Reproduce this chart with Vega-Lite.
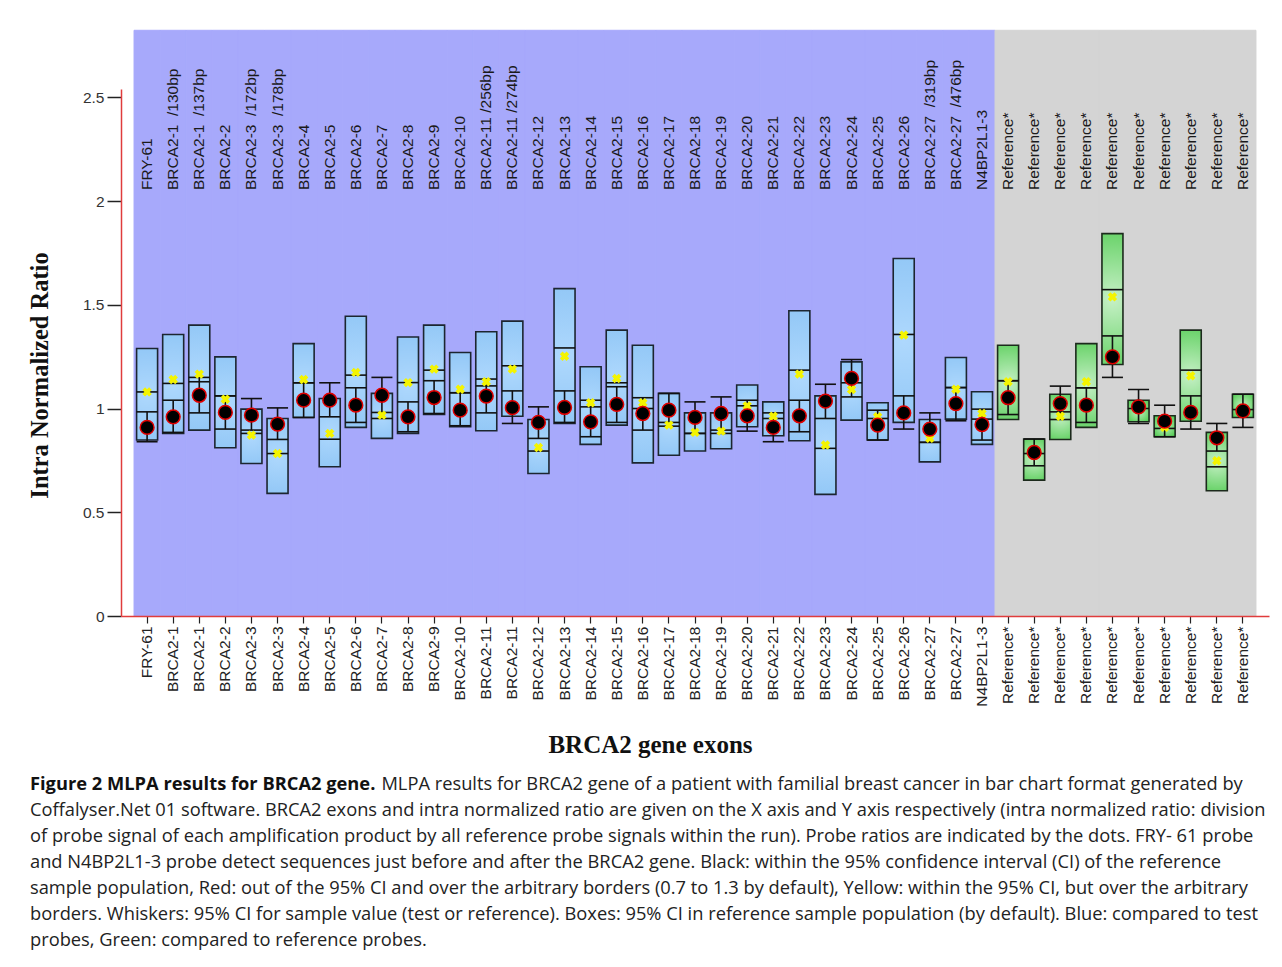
{
  "$schema": "https://vega.github.io/schema/vega-lite/v6.json",
  "width": 1148,
  "height": 527,
  "autosize": {"type": "none"},
  "padding": {"left": 121, "top": 89, "right": 13, "bottom": 351},
  "background": "white",
  "config": {"view": {"stroke": null}, "font": "Liberation Sans"},
  "title": {
    "text": "Figure 2 MLPA results for BRCA2 gene.",
    "subtitle": [
      "\u200b\u00a0\u00a0\u00a0\u00a0\u00a0\u00a0\u00a0\u00a0\u00a0\u00a0\u00a0\u00a0\u00a0\u00a0\u00a0\u00a0\u00a0\u00a0\u00a0\u00a0\u00a0\u00a0\u00a0\u00a0\u00a0\u00a0\u00a0\u00a0\u00a0\u00a0\u00a0\u00a0\u00a0\u00a0\u00a0\u00a0\u00a0\u00a0\u00a0\u00a0\u00a0\u00a0\u00a0\u00a0\u00a0\u00a0\u00a0\u00a0\u00a0\u00a0\u00a0\u00a0\u00a0\u00a0\u00a0\u00a0\u00a0\u00a0\u00a0\u00a0\u00a0\u00a0\u00a0\u00a0\u00a0\u00a0\u00a0\u00a0\u00a0\u00a0\u00a0\u00a0\u00a0\u00a0MLPA results for BRCA2 gene of a patient with familial breast cancer in bar chart format generated by",
      "Coffalyser.Net 01 software. BRCA2 exons and intra normalized ratio are given on the X axis and Y axis respectively (intra normalized ratio: division",
      "of probe signal of each amplification product by all reference probe signals within the run). Probe ratios are indicated by the dots. FRY- 61 probe",
      "and N4BP2L1-3 probe detect sequences just before and after the BRCA2 gene. Black: within the 95% confidence interval (CI) of the reference",
      "sample population, Red: out of the 95% CI and over the arbitrary borders (0.7 to 1.3 by default), Yellow: within the 95% CI, but over the arbitrary",
      "borders. Whiskers: 95% CI for sample value (test or reference). Boxes: 95% CI in reference sample population (by default). Blue: compared to test",
      "probes, Green: compared to reference probes."
    ],
    "orient": "bottom",
    "anchor": "start",
    "frame": "group",
    "dx": -91,
    "offset": 19,
    "font": "Open Sans",
    "fontSize": 18.3,
    "fontWeight": "bold",
    "color": "#111111",
    "subtitleFont": "Open Sans",
    "subtitleFontSize": 18.3,
    "subtitleColor": "#222222",
    "subtitleLineHeight": 26,
    "subtitlePadding": -18.3
  },
  "data": {
    "values": [
      {"k": "FRY-61", "top": "FRY-61", "g": "t", "lo": 0.848, "hi": 1.289, "mid": 1.080, "yx": 1.080, "d": 0.909, "wl": 0.840, "wh": 0.984},
      {"k": "BRCA2-1 /130bp", "top": "BRCA2-1\u00a0 /130bp", "g": "t", "lo": 0.880, "hi": 1.357, "mid": 1.121, "yx": 1.140, "d": 0.960, "wl": 0.885, "wh": 1.040},
      {"k": "BRCA2-1 /137bp", "top": "BRCA2-1\u00a0 /137bp", "g": "t", "lo": 0.896, "hi": 1.402, "mid": 1.129, "yx": 1.166, "d": 1.064, "wl": 0.979, "wh": 1.150},
      {"k": "BRCA2-2", "top": "BRCA2-2", "g": "t", "lo": 0.811, "hi": 1.249, "mid": 1.061, "yx": 1.045, "d": 0.981, "wl": 0.901, "wh": 1.061},
      {"k": "BRCA2-3 /172bp", "top": "BRCA2-3\u00a0 /172bp", "g": "t", "lo": 0.735, "hi": 0.997, "mid": 0.880, "yx": 0.872, "d": 0.968, "wl": 0.896, "wh": 1.048},
      {"k": "BRCA2-3 /178bp", "top": "BRCA2-3\u00a0 /178bp", "g": "t", "lo": 0.591, "hi": 0.952, "mid": 0.783, "yx": 0.783, "d": 0.925, "wl": 0.851, "wh": 1.003},
      {"k": "BRCA2-4", "top": "BRCA2-4", "g": "t", "lo": 0.957, "hi": 1.313, "mid": 1.124, "yx": 1.140, "d": 1.040, "wl": 0.957, "wh": 1.124},
      {"k": "BRCA2-5", "top": "BRCA2-5", "g": "t", "lo": 0.719, "hi": 1.048, "mid": 0.852, "yx": 0.880, "d": 1.040, "wl": 0.960, "wh": 1.124},
      {"k": "BRCA2-6", "top": "BRCA2-6", "g": "t", "lo": 0.909, "hi": 1.445, "mid": 1.161, "yx": 1.174, "d": 1.016, "wl": 0.933, "wh": 1.100},
      {"k": "BRCA2-7", "top": "BRCA2-7", "g": "t", "lo": 0.856, "hi": 1.073, "mid": 0.952, "yx": 0.968, "d": 1.064, "wl": 0.981, "wh": 1.150},
      {"k": "BRCA2-8", "top": "BRCA2-8", "g": "t", "lo": 0.880, "hi": 1.345, "mid": 1.125, "yx": 1.125, "d": 0.960, "wl": 0.888, "wh": 1.032},
      {"k": "BRCA2-9", "top": "BRCA2-9", "g": "t", "lo": 0.971, "hi": 1.402, "mid": 1.185, "yx": 1.190, "d": 1.053, "wl": 0.976, "wh": 1.134},
      {"k": "BRCA2-10", "top": "BRCA2-10", "g": "t", "lo": 0.912, "hi": 1.270, "mid": 1.076, "yx": 1.093, "d": 0.992, "wl": 0.917, "wh": 1.076},
      {"k": "BRCA2-11 /256bp", "top": "BRCA2-11\u00a0/256bp", "g": "t", "lo": 0.893, "hi": 1.370, "mid": 1.109, "yx": 1.129, "d": 1.060, "wl": 0.979, "wh": 1.142},
      {"k": "BRCA2-11 /274bp", "top": "BRCA2-11\u00a0/274bp", "g": "t", "lo": 0.963, "hi": 1.421, "mid": 1.206, "yx": 1.190, "d": 1.004, "wl": 0.928, "wh": 1.085},
      {"k": "BRCA2-12", "top": "BRCA2-12", "g": "t", "lo": 0.687, "hi": 0.947, "mid": 0.795, "yx": 0.812, "d": 0.933, "wl": 0.856, "wh": 1.008},
      {"k": "BRCA2-13", "top": "BRCA2-13", "g": "t", "lo": 0.928, "hi": 1.578, "mid": 1.292, "yx": 1.252, "d": 1.005, "wl": 0.933, "wh": 1.085},
      {"k": "BRCA2-14", "top": "BRCA2-14", "g": "t", "lo": 0.827, "hi": 1.201, "mid": 1.040, "yx": 1.028, "d": 0.936, "wl": 0.864, "wh": 1.008},
      {"k": "BRCA2-15", "top": "BRCA2-15", "g": "t", "lo": 0.920, "hi": 1.378, "mid": 1.124, "yx": 1.145, "d": 1.020, "wl": 0.933, "wh": 1.105},
      {"k": "BRCA2-16", "top": "BRCA2-16", "g": "t", "lo": 0.738, "hi": 1.305, "mid": 1.000, "yx": 1.028, "d": 0.976, "wl": 0.896, "wh": 1.052},
      {"k": "BRCA2-17", "top": "BRCA2-17", "g": "t", "lo": 0.775, "hi": 1.073, "mid": 0.933, "yx": 0.920, "d": 0.992, "wl": 0.915, "wh": 1.073},
      {"k": "BRCA2-18", "top": "BRCA2-18", "g": "t", "lo": 0.795, "hi": 0.979, "mid": 0.880, "yx": 0.885, "d": 0.957, "wl": 0.880, "wh": 1.032},
      {"k": "BRCA2-19", "top": "BRCA2-19", "g": "t", "lo": 0.806, "hi": 0.979, "mid": 0.880, "yx": 0.891, "d": 0.976, "wl": 0.896, "wh": 1.056},
      {"k": "BRCA2-20", "top": "BRCA2-20", "g": "t", "lo": 0.912, "hi": 1.113, "mid": 1.013, "yx": 1.013, "d": 0.965, "wl": 0.891, "wh": 1.040},
      {"k": "BRCA2-21", "top": "BRCA2-21", "g": "t", "lo": 0.869, "hi": 1.032, "mid": 0.952, "yx": 0.963, "d": 0.909, "wl": 0.840, "wh": 0.979},
      {"k": "BRCA2-22", "top": "BRCA2-22", "g": "t", "lo": 0.845, "hi": 1.471, "mid": 1.185, "yx": 1.166, "d": 0.965, "wl": 0.888, "wh": 1.040},
      {"k": "BRCA2-23", "top": "BRCA2-23", "g": "t", "lo": 0.586, "hi": 1.061, "mid": 0.808, "yx": 0.824, "d": 1.036, "wl": 0.952, "wh": 1.117},
      {"k": "BRCA2-24", "top": "BRCA2-24", "g": "t", "lo": 0.944, "hi": 1.225, "mid": 1.124, "yx": 1.092, "d": 1.145, "wl": 1.056, "wh": 1.236},
      {"k": "BRCA2-25", "top": "BRCA2-25", "g": "t", "lo": 0.848, "hi": 1.028, "mid": 0.952, "yx": 0.960, "d": 0.920, "wl": 0.848, "wh": 0.992},
      {"k": "BRCA2-26", "top": "BRCA2-26", "g": "t", "lo": 0.933, "hi": 1.723, "mid": 1.357, "yx": 1.354, "d": 0.979, "wl": 0.901, "wh": 1.061},
      {"k": "BRCA2-27 /319bp", "top": "BRCA2-27\u00a0 /319bp", "g": "t", "lo": 0.743, "hi": 0.947, "mid": 0.837, "yx": 0.856, "d": 0.901, "wl": 0.837, "wh": 0.979},
      {"k": "BRCA2-27 /476bp", "top": "BRCA2-27\u00a0 /476bp", "g": "t", "lo": 0.949, "hi": 1.246, "mid": 1.101, "yx": 1.093, "d": 1.024, "wl": 0.941, "wh": 1.101},
      {"k": "N4BP2L1-3", "top": "N4BP2L1-3", "g": "t", "lo": 0.827, "hi": 1.081, "mid": 0.949, "yx": 0.976, "d": 0.923, "wl": 0.848, "wh": 0.997},
      {"k": "Reference* #1", "top": "Reference*", "g": "r", "lo": 0.947, "hi": 1.305, "mid": 1.134, "yx": 1.129, "d": 1.052, "wl": 0.971, "wh": 1.134},
      {"k": "Reference* #2", "top": "Reference*", "g": "r", "lo": 0.655, "hi": 0.853, "mid": 0.783, "yx": 0.783, "d": 0.788, "wl": 0.724, "wh": 0.853},
      {"k": "Reference* #3", "top": "Reference*", "g": "r", "lo": 0.851, "hi": 1.069, "mid": 0.984, "yx": 0.963, "d": 1.024, "wl": 0.947, "wh": 1.108},
      {"k": "Reference* #4", "top": "Reference*", "g": "r", "lo": 0.909, "hi": 1.313, "mid": 1.100, "yx": 1.129, "d": 1.016, "wl": 0.933, "wh": 1.100},
      {"k": "Reference* #5", "top": "Reference*", "g": "r", "lo": 1.212, "hi": 1.843, "mid": 1.573, "yx": 1.538, "d": 1.249, "wl": 1.150, "wh": 1.350},
      {"k": "Reference* #6", "top": "Reference*", "g": "r", "lo": 0.936, "hi": 1.040, "mid": 1.000, "yx": 1.000, "d": 1.008, "wl": 0.928, "wh": 1.092},
      {"k": "Reference* #7", "top": "Reference*", "g": "r", "lo": 0.864, "hi": 0.965, "mid": 0.904, "yx": 0.910, "d": 0.939, "wl": 0.864, "wh": 1.016},
      {"k": "Reference* #8", "top": "Reference*", "g": "r", "lo": 0.939, "hi": 1.378, "mid": 1.185, "yx": 1.158, "d": 0.981, "wl": 0.901, "wh": 1.061},
      {"k": "Reference* #9", "top": "Reference*", "g": "r", "lo": 0.604, "hi": 0.885, "mid": 0.719, "yx": 0.748, "d": 0.859, "wl": 0.795, "wh": 0.928},
      {"k": "Reference* #10", "top": "Reference*", "g": "r", "lo": 0.957, "hi": 1.069, "mid": 0.995, "yx": 0.995, "d": 0.989, "wl": 0.909, "wh": 1.069}
    ]
  },
  "encoding": {
    "x": {
      "field": "k",
      "type": "nominal",
      "sort": null,
      "scale": {"paddingInner": 0, "paddingOuter": 0.5},
      "axis": {
        "orient": "bottom",
        "domainColor": "#e03c3c",
        "domainWidth": 1.5,
        "tickColor": "#222222",
        "tickSize": 7,
        "tickWidth": 1.2,
        "labelAngle": 270,
        "labelAlign": "right",
        "labelBaseline": "middle",
        "labelFontSize": 15.5,
        "labelColor": "#222222",
        "labelPadding": 3,
        "labelOverlap": false,
        "labelLimit": 0,
        "labelExpr": "split(datum.label, ' ')[0]",
        "title": "BRCA2 gene exons",
        "titleFont": "Liberation Serif",
        "titleFontSize": 25,
        "titleFontWeight": "bold",
        "titleColor": "#111111",
        "titlePadding": 26,
        "titleX": 529
      }
    }
  },
  "layer": [
    {
      "mark": {"type": "rect", "strokeWidth": 1},
      "encoding": {
        "y": {
          "datum": 0,
          "type": "quantitative",
          "scale": {"domain": [0, 2.54], "nice": false, "zero": false},
          "axis": {
            "values": [0, 0.5, 1, 1.5, 2, 2.5],
            "format": "~g",
            "domainColor": "#e03c3c",
            "domainWidth": 1.5,
            "tickColor": "#222222",
            "tickSize": 14,
            "tickWidth": 1.5,
            "labelFontSize": 15.5,
            "labelColor": "#333333",
            "labelPadding": 3,
            "grid": false,
            "title": "Intra Normalized Ratio",
            "titleFont": "Liberation Serif",
            "titleFontSize": 24.5,
            "titleFontWeight": "bold",
            "titleColor": "#111111",
            "titlePadding": 30,
            "titleY": 286
          }
        },
        "y2": {"datum": 2.823},
        "color": {"field": "g", "type": "nominal", "scale": {"domain": ["t", "r"], "range": ["#a7a9fb", "#d4d4d4"]}, "legend": null},
        "stroke": {"field": "g", "type": "nominal", "scale": {"domain": ["t", "r"], "range": ["#a7a9fb", "#d4d4d4"]}, "legend": null}
      }
    },
    {
      "transform": [{"filter": "datum.g === 't'"}],
      "mark": {
        "type": "bar",
        "width": 21,
        "stroke": "#1c2630",
        "strokeWidth": 1.6,
        "fill": {"gradient": "radial", "x1": 0.5, "y1": 0.5, "x2": 0.5, "y2": 0.5, "r1": 0, "r2": 0.75, "stops": [{"offset": 0, "color": "#aed8fd"}, {"offset": 1, "color": "#86c0f3"}]}
      },
      "encoding": {"y": {"field": "lo", "type": "quantitative"}, "y2": {"field": "hi"}}
    },
    {
      "transform": [{"filter": "datum.g === 'r'"}],
      "mark": {
        "type": "bar",
        "width": 21,
        "stroke": "#1c2a1c",
        "strokeWidth": 1.6,
        "fill": {"gradient": "radial", "x1": 0.5, "y1": 0.5, "x2": 0.5, "y2": 0.5, "r1": 0, "r2": 0.75, "stops": [{"offset": 0, "color": "#c6f0c6"}, {"offset": 1, "color": "#3ec53e"}]}
      },
      "encoding": {"y": {"field": "lo", "type": "quantitative"}, "y2": {"field": "hi"}}
    },
    {
      "mark": {"type": "tick", "size": 21, "thickness": 1.6, "color": "#111111", "opacity": 1},
      "encoding": {"y": {"field": "mid", "type": "quantitative"}}
    },
    {
      "mark": {"type": "rule", "color": "#111111", "strokeWidth": 1.6},
      "encoding": {"y": {"field": "wl", "type": "quantitative"}, "y2": {"field": "wh"}}
    },
    {
      "mark": {"type": "tick", "size": 21, "thickness": 1.6, "color": "#111111", "opacity": 1},
      "encoding": {"y": {"field": "wl", "type": "quantitative"}}
    },
    {
      "mark": {"type": "tick", "size": 21, "thickness": 1.6, "color": "#111111", "opacity": 1},
      "encoding": {"y": {"field": "wh", "type": "quantitative"}}
    },
    {
      "mark": {"type": "point", "shape": "cross", "angle": 45, "filled": true, "color": "#f4f400", "size": 90, "opacity": 1},
      "encoding": {"y": {"field": "yx", "type": "quantitative"}}
    },
    {
      "mark": {"type": "circle", "size": 190, "fill": "#000000", "stroke": "#e00000", "strokeWidth": 1.5, "opacity": 1},
      "encoding": {"y": {"field": "d", "type": "quantitative"}}
    },
    {
      "mark": {"type": "text", "angle": 270, "align": "left", "baseline": "middle", "fontSize": 15.5, "color": "#1a1a1a", "font": "Liberation Sans"},
      "encoding": {"y": {"datum": 2.053, "type": "quantitative"}, "text": {"field": "top"}}
    }
  ]
}
